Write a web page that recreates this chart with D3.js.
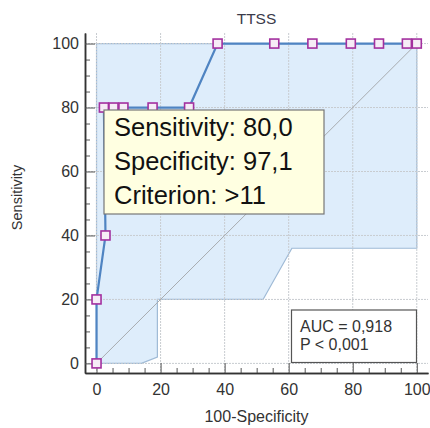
<!DOCTYPE html>
<html>
<head>
<meta charset="utf-8">
<script src="https://cdn.jsdelivr.net/npm/d3@7"></script>
<style>
  body { margin: 0; background: #fff; }
  svg text { font-family: Arial, "Liberation Sans", sans-serif; }
</style>
</head>
<body>
<div id="chart"></div>
<script>
// ROC curve points (100-Specificity, Sensitivity)
const rocX = [0, 0, 2.8, 2.3, 5.3, 8.4, 17.5, 28.9, 37.8, 55.5, 67.4, 79.4, 88.2, 96.9, 100]
const rocY = [0, 20, 40, 80, 80, 80, 80, 80, 100, 100, 100, 100, 100, 100, 100]

// confidence band outline
const bandUpperX = [0, 0, 100, 100]
const bandUpperY = [0, 100, 100, 36]
const bandLowerX = [100, 61, 52, 19, 19, 14, 0]
const bandLowerY = [36, 36, 20, 20, 2, 0, 0]

const majorTicks = [0, 20, 40, 60, 80, 100]
const minorTicks = [5, 10, 15, 25, 30, 35, 45, 50, 55, 65, 70, 75, 85, 90, 95]

const titleText = "TTSS"
const xLabel = "100-Specificity"
const yLabel = "Sensitivity"
const infoLines = ["Sensitivity: 80,0", "Specificity: 97,1", "Criterion: >11"]
const statLines = ["AUC = 0,918", "P < 0,001"]

const w = 430
const h = 428

const x = d3.scaleLinear().domain([-3.6, 103.5]).range([85, 428])
const y = d3.scaleLinear().domain([-3, 103.3]).range([373, 33])

const svg = d3.select("#chart").append("svg")
  .attr("width", w)
  .attr("height", h)

// band
const bandPts = bandUpperX.map((d, i) => [d, bandUpperY[i]])
  .concat(bandLowerX.map((d, i) => [d, bandLowerY[i]]))
svg.append("path")
  .attr("d", d3.line().x(d => x(d[0])).y(d => y(d[1]))(bandPts) + "Z")
  .attr("fill", "#deedfb")
  .attr("stroke", "#9fbad6")
  .attr("stroke-width", 1.2)

// grid
const grid = svg.append("g")
grid.selectAll(".gx").data(majorTicks).enter().append("line")
  .attr("x1", d => x(d)).attr("x2", d => x(d))
  .attr("y1", y.range()[1]).attr("y2", y.range()[0])
  .attr("stroke", "#c8ccd0").attr("stroke-width", 1)
  .attr("stroke-dasharray", "2,1")
grid.selectAll(".gy").data(majorTicks).enter().append("line")
  .attr("y1", d => y(d)).attr("y2", d => y(d))
  .attr("x1", x.range()[0]).attr("x2", x.range()[1])
  .attr("stroke", "#c8ccd0").attr("stroke-width", 1)
  .attr("stroke-dasharray", "2,1")

// diagonal reference line
svg.append("line")
  .attr("x1", x(0)).attr("y1", y(0))
  .attr("x2", x(100)).attr("y2", y(100))
  .attr("stroke", "#a8acb0").attr("stroke-width", 1)

// axes
const xAxis = d3.axisBottom(x).tickValues(majorTicks).tickSizeInner(-10).tickSizeOuter(0).tickPadding(11)
const xMinor = d3.axisBottom(x).tickValues(minorTicks).tickSizeInner(-5).tickSizeOuter(0).tickFormat("")
const yAxis = d3.axisLeft(y).tickValues(majorTicks).tickSizeInner(-10).tickSizeOuter(0).tickPadding(6)
const yMinor = d3.axisLeft(y).tickValues(minorTicks).tickSizeInner(-5).tickSizeOuter(0).tickFormat("")

function styleAxis(g) {
  g.select(".domain").attr("stroke", "#333").attr("stroke-width", 1.5)
  g.selectAll(".tick line").attr("stroke", "#555")
  g.selectAll("text").attr("font-size", 16).attr("fill", "#333")
    .style("font-family", "Arial, 'Liberation Sans', sans-serif")
}

svg.append("g").attr("transform", "translate(0," + y.range()[0] + ")").call(xMinor).call(styleAxis)
svg.append("g").attr("id", "x-axis").attr("transform", "translate(0," + y.range()[0] + ")").call(xAxis).call(styleAxis)
svg.append("g").attr("transform", "translate(" + x.range()[0] + ",0)").call(yMinor).call(styleAxis)
svg.append("g").attr("id", "y-axis").attr("transform", "translate(" + x.range()[0] + ",0)").call(yAxis).call(styleAxis)

// ROC line
const rocPts = rocX.map((d, i) => [d, rocY[i]])
svg.append("path")
  .attr("d", d3.line().x(d => x(d[0])).y(d => y(d[1]))(rocPts))
  .attr("fill", "none")
  .attr("stroke", "#4f84c2")
  .attr("stroke-width", 2.2)

svg.selectAll(".pt").data(rocPts).enter().append("rect")
  .attr("x", d => x(d[0]) - 4.5)
  .attr("y", d => y(d[1]) - 4.5)
  .attr("width", 9).attr("height", 9)
  .attr("fill", "#f6ecf6")
  .attr("stroke", "#a3309f")
  .attr("stroke-width", 1.6)

// info box
svg.append("rect")
  .attr("x", 104).attr("y", 110).attr("width", 220).attr("height", 104)
  .attr("fill", "#ffffe1").attr("stroke", "#777").attr("stroke-width", 1.2)
svg.selectAll(".info").data(infoLines).enter().append("text")
  .attr("x", 114).attr("y", (d, i) => 136 + i * 34)
  .attr("font-size", 25.5).attr("fill", "#111")
  .text(d => d)

// AUC box
svg.append("rect")
  .attr("x", 291.5).attr("y", 310).attr("width", 125).attr("height", 52.5)
  .attr("fill", "#fff").attr("stroke", "#555").attr("stroke-width", 1.2)
svg.selectAll(".stat").data(statLines).enter().append("text")
  .attr("x", 300).attr("y", (d, i) => 331.5 + i * 18.5)
  .attr("font-size", 16).attr("fill", "#333")
  .text(d => d)

// titles
svg.append("text")
  .attr("x", 256.5).attr("y", 23.5)
  .attr("text-anchor", "middle").attr("font-size", 15.5).attr("fill", "#3a3a4a")
  .text(titleText)
svg.append("text")
  .attr("x", 256.5).attr("y", 421.5)
  .attr("text-anchor", "middle").attr("font-size", 16).attr("fill", "#333")
  .text(xLabel)
svg.append("text")
  .attr("transform", "translate(21.5,197.5) rotate(-90)")
  .attr("text-anchor", "middle").attr("font-size", 14.5).attr("fill", "#333")
  .text(yLabel)
</script>
</body>
</html>
